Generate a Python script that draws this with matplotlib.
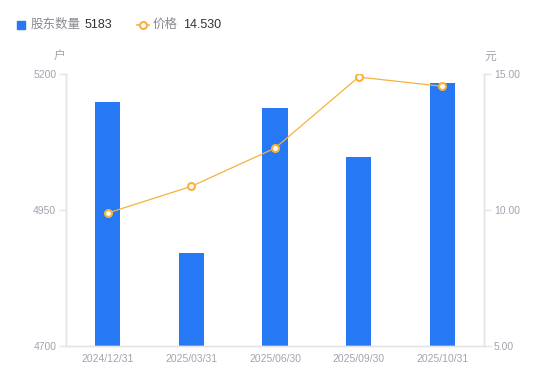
import matplotlib
matplotlib.use("Agg")
import matplotlib.pyplot as plt
import numpy as np
from matplotlib.lines import Line2D
from matplotlib.patches import Rectangle

plt.rcParams['font.family'] = ['Liberation Sans', 'Noto Sans CJK SC', 'DejaVu Sans']

categories = ["2024/12/31", "2025/03/31", "2025/06/30", "2025/09/30", "2025/10/31"]
holders = [5147, 4871, 5137, 5046, 5183]
prices = [9.88, 10.86, 12.26, 14.87, 14.53]
left_ticks = [4700, 4950, 5200]
right_ticks = [5.00, 10.00, 15.00]

BLUE = "#2678F5"
ORANGE = "#F7B23B"
AXIS = "#E3E3E8"
TXT = "#A3A3B0"

fig = plt.figure(figsize=(5.5, 3.81), dpi=100)
W, H = 550, 381
ax = fig.add_axes([66 / W, 1 - 346 / H, (484 - 66) / W, (346 - 73.5) / H])
ax2 = ax.twinx()

x = np.arange(len(categories))
ax.bar(x, holders, width=0.3, color=BLUE, zorder=2)
ax.set_ylim(4700, 5200)
ax.set_xlim(-0.5, len(categories) - 0.5)
ax.set_yticks(left_ticks)
ax.set_yticklabels([str(v) for v in left_ticks])
ax.set_xticks(x)
ax.set_xticklabels(categories)

ax2.plot(x, prices, color=ORANGE, lw=0.9, marker='o', ms=5, mfc='white',
         mec=ORANGE, mew=1.5, zorder=3)
ax2.set_ylim(5, 15)
ax2.set_yticks(right_ticks)
ax2.set_yticklabels([f"{v:.2f}" for v in right_ticks])

for a in (ax, ax2):
    a.spines['top'].set_visible(False)
    for s in ('left', 'right', 'bottom'):
        a.spines[s].set_color(AXIS)
        a.spines[s].set_linewidth(1)
    a.tick_params(axis='y', colors=AXIS, labelcolor=TXT, labelsize=7.5, length=5, width=1, pad=2)
    a.tick_params(axis='x', length=0, labelcolor=TXT, labelsize=7.5, pad=6)

ax.text(-0.5, 5200, "户", transform=ax.transData, fontsize=8.5, color=TXT,
        ha='right', va='bottom')
fig.text(59 / W, 1 - 57 / H, "户", fontsize=8.5, color=TXT, ha='center', va='center')
ax.texts[0].remove()
fig.text(490 / W, 1 - 57 / H, "元", fontsize=8.5, color=TXT, ha='center', va='center')

# legend
fig.patches.append(Rectangle((17 / W, 1 - 29 / H), 8 / W, 8 / H, transform=fig.transFigure,
                             color=BLUE, figure=fig))
fig.text(31 / W, 1 - 24.5 / H, "股东数量", fontsize=9, color="#888892", ha='left', va='center')
fig.text(85 / W, 1 - 24.5 / H, f"{holders[-1]}", fontsize=9, color="#333333", ha='left', va='center')
fig.lines.append(Line2D([137 / W, 149 / W], [1 - 24.5 / H, 1 - 24.5 / H], transform=fig.transFigure,
                        color=ORANGE, lw=1.2, marker='o', markevery=[0], ms=0))
fig.lines.append(Line2D([143 / W], [1 - 24.5 / H], transform=fig.transFigure,
                        color=ORANGE, marker='o', ms=5, mfc='white', mew=1.5, lw=0))
fig.text(153 / W, 1 - 24.5 / H, "价格", fontsize=9, color="#888892", ha='left', va='center')
fig.text(183 / W, 1 - 24.5 / H, f"{prices[-1]:.3f}", fontsize=9, color="#333333", ha='left', va='center')

fig.savefig("out.png", dpi=100)
